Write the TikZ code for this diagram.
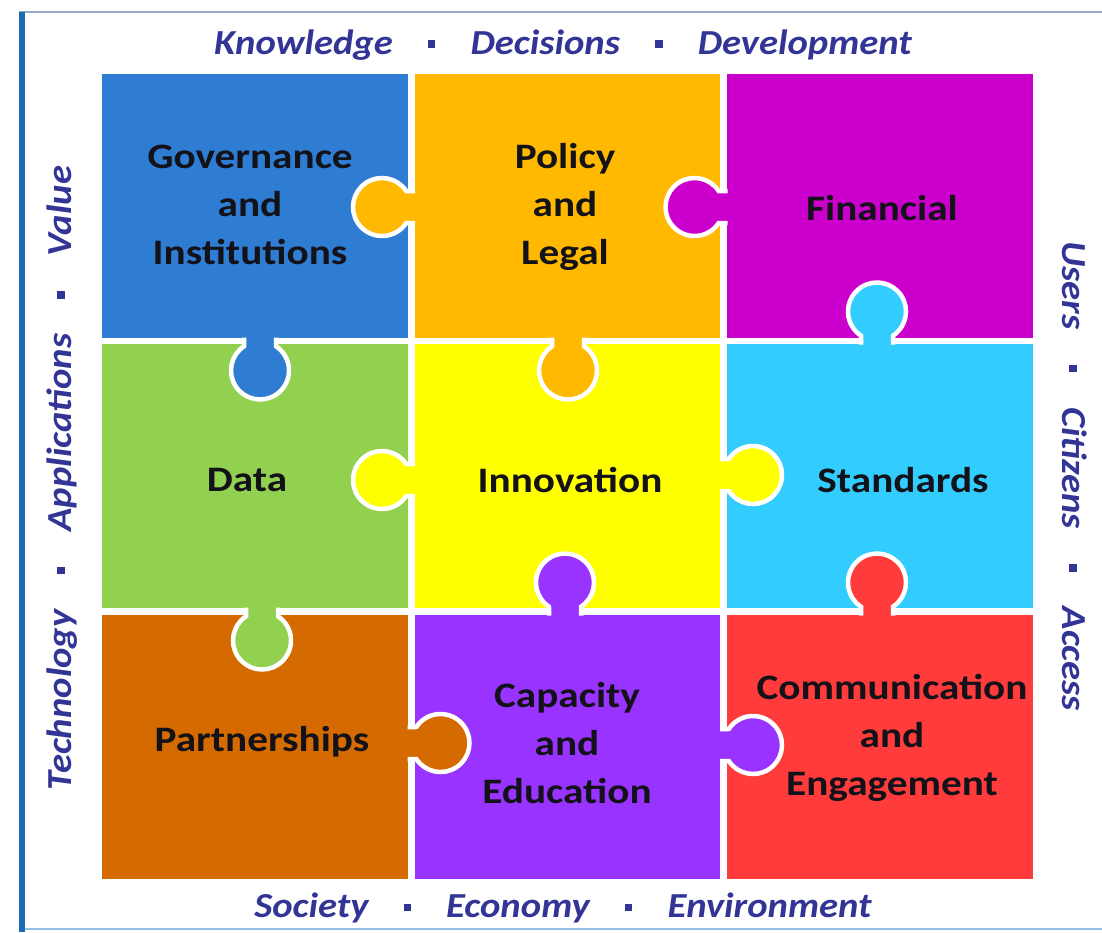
\documentclass[tikz,border=0pt]{standalone}
\usepackage{fontspec}
\setmainfont{Carlito}[FakeStretch=1.15]
\newfontfamily\sidefont{Carlito}[FakeStretch=1.1]
\usepackage{xcolor}
\definecolor{govblue}{RGB}{46,125,210}
\definecolor{polorange}{RGB}{255,185,0}
\definecolor{finmagenta}{RGB}{204,0,204}
\definecolor{datagreen}{RGB}{146,208,80}
\definecolor{innyellow}{RGB}{255,255,0}
\definecolor{stdcyan}{RGB}{51,204,255}
\definecolor{parbrown}{RGB}{213,106,0}
\definecolor{cappurple}{RGB}{153,51,255}
\definecolor{comred}{RGB}{255,59,59}
\definecolor{cellink}{RGB}{20,18,25}
\definecolor{sideink}{RGB}{50,52,150}
\definecolor{frameblue}{RGB}{30,105,180}
\definecolor{framegrey}{RGB}{150,170,195}
\definecolor{framelight}{RGB}{150,190,230}

\newcommand{\dotsep}{\hspace{1em}\raisebox{0.19em}{\rule{0.21em}{0.21em}}\hspace{1em}}

\tikzset{
  cell/.style={rectangle, inner sep=0pt, minimum width=7.625cm, minimum height=6.575cm},
  celltext/.style={align=center, font=\bfseries\fontsize{25.5}{34}\selectfont, text=cellink},
  sidetext/.style={font=\sidefont\bfseries\itshape\fontsize{25}{30}\selectfont, text=sideink},
  knobline/.style={draw=white, line width=3.2pt},
}

\begin{document}
\begin{tikzpicture}[x=0.025cm, y=0.025cm]
  \useasboundingbox (0,0) rectangle (1102,-932);

  % Frame
  \draw[framegrey, line width=1.4pt] (19,-12) -- (1102,-12);
  \draw[framelight, line width=2pt] (19,-929) -- (1102,-929);
  \draw[frameblue, line width=4.2pt] (22,-12) -- (22,-932);

  % Puzzle pieces
  \foreach \name/\x/\y/\col in {gov/255/206/govblue, pol/567.5/206/polorange, fin/880/206/finmagenta,
      dat/255/476/datagreen, inn/567.5/476/innyellow, std/880/476/stdcyan,
      par/255/747/parbrown, cap/567.5/747/cappurple, com/880/747/comred} {
    \node[cell, fill=\col] (\name) at (\x,-\y) {};
  }

  % Knobs (base on the owner's edge, pointing into the neighbour)
  \foreach \col/\x/\y/\ang in {polorange/415/207/180, finmagenta/727.5/207/180,
      govblue/260/337.5/270, polorange/568/337.5/270, stdcyan/877/344.5/90,
      innyellow/415/480/180, innyellow/720/475/0,
      cappurple/565/615.5/90, comred/877/615.5/90, datagreen/262/607.5/270,
      parbrown/407.5/743/0, cappurple/720/745/0} {
    \begin{scope}[shift={(\x,-\y)}, rotate=\ang]
      \fill[\col] (0,-16) -- (8.81,-16) arc[start angle=-146.5, end angle=146.5, radius=29] -- (0,16) -- cycle;
      \draw[knobline] (0,-16) -- (8.81,-16) arc[start angle=-146.5, end angle=146.5, radius=29] -- (0,16);
    \end{scope}
  }

  % Labels
  \foreach \name/\x/\y/\txt in {gov/250/205/{Governance\\and\\Institutions}, pol/565/207/{Policy\\and\\Legal},
      fin/882/208/{Financial}, dat/247/480/{Data}, inn/570/480/{Innovation}, std/903/480/{Standards},
      par/262/742/{Partnerships}, cap/567/743/{Capacity\\and\\Education},
      com/892/738/{Communication\\and\\Engagement}} {
    \node[celltext] (\name-txt) at (\x,-\y) {\txt};
  }

  % Surrounding themes
  \node[sidetext] (top) at (563,-45) {Knowledge\dotsep Decisions\dotsep Development};
  \node[sidetext] (bottom) at (563,-908) {Society\dotsep Economy\dotsep Environment};
  \node[sidetext, rotate=90] (left) at (62,-478) {Technology\dotsep Applications\dotsep Value};
  \node[sidetext, rotate=-90] (right) at (1075,-476) {Users\dotsep Citizens\dotsep Access};
\end{tikzpicture}
\end{document}
